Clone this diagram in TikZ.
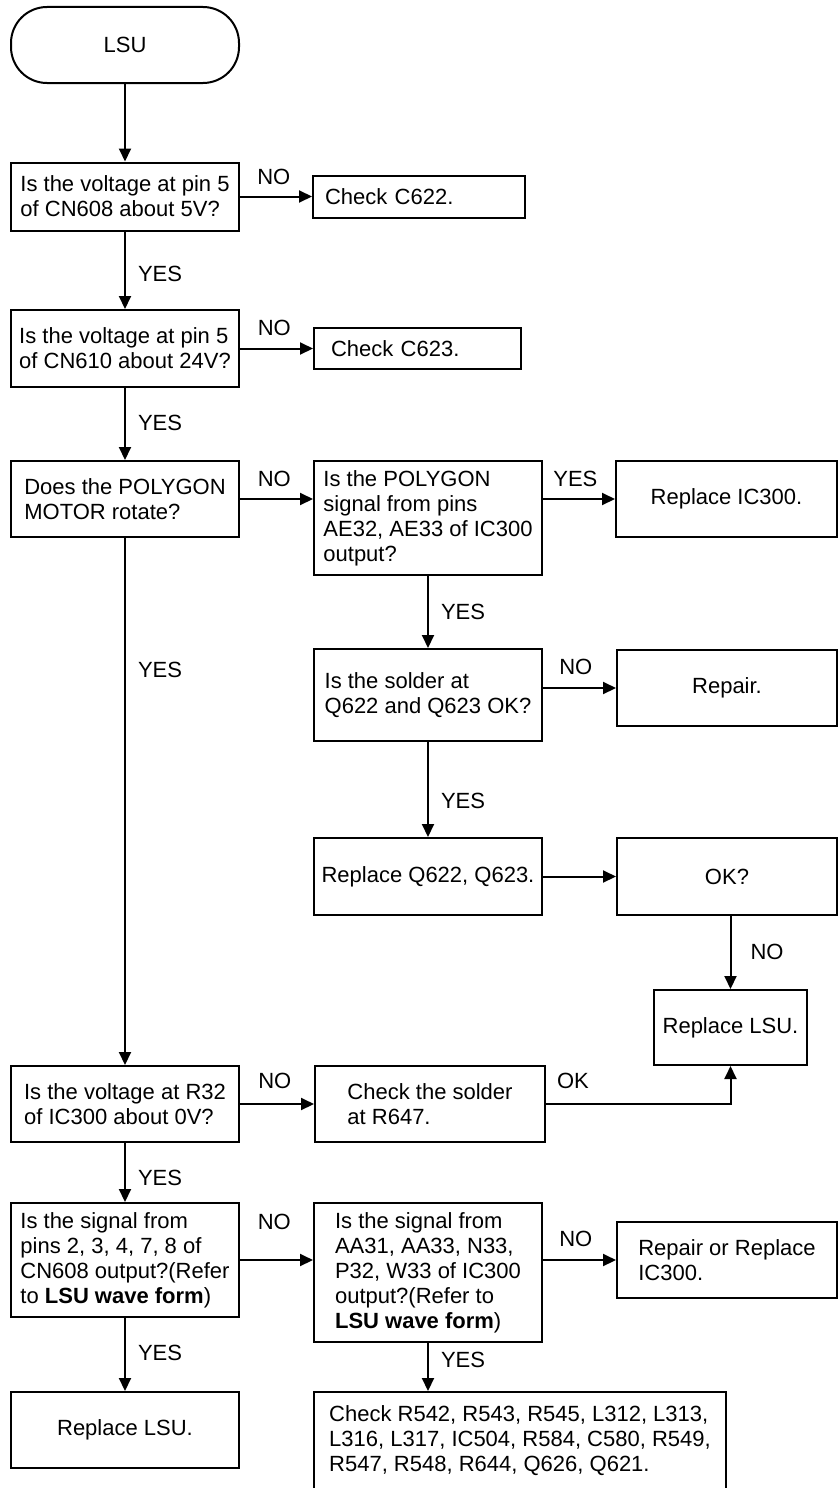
\documentclass[tikz,border=0pt]{standalone}
\usepackage{fontspec}
\setmainfont{Liberation Sans}
\usetikzlibrary{arrows.meta, positioning}

\begin{document}
\begin{tikzpicture}[x=1pt, y=-1pt, line width=2pt,
    every node/.style={font=\fontsize{22}{25}\selectfont},
    box/.style 2 args={draw, rectangle, inner sep=0pt, align=left, minimum width=#1, minimum height=#2},
    term/.style={draw, rectangle, rounded corners=36pt, minimum width=228pt, minimum height=76pt},
    flow/.style={-{Triangle[length=13pt, width=12pt]}},
    lbl/.style={inner sep=0pt}]
        \useasboundingbox (0,0) rectangle (838,1488);

        % Start
        \node[term] (lsu) at (125,45) {LSU};

        % Supply voltages
        \node[box={228pt}{68pt}] (q5v) at (125,196.5) {Is the voltage at pin 5\\of CN608 about 5V?};
        \node[box={212pt}{42pt}, inner xsep=12pt, text width=188pt] (c622) at (419,196.5) {Check C622.};
        \node[box={228pt}{77pt}] (q24v) at (125,348.5) {Is the voltage at pin 5\\of CN610 about 24V?};
        \node[box={207pt}{41pt}, inner xsep=17pt, text width=173pt] (c623) at (417.5,348.5) {Check C623.};

        % Polygon motor
        \node[box={228pt}{76pt}] (polygon) at (125,499) {Does the POLYGON\\MOTOR rotate?};
        \node[box={228pt}{114pt}] (polysig) at (428,518) {Is the POLYGON\\signal from pins\\AE32, AE33 of IC300\\output?};
        \node[box={221pt}{76pt}] (ic300) at (726.5,499) {Replace IC300.};
        \node[box={228pt}{92pt}] (solder) at (428,695) {Is the solder at\\Q622 and Q623 OK?};
        \node[box={220pt}{76pt}] (repair) at (727,688) {Repair.};
        \node[box={228pt}{77pt}] (q622) at (428,876.5) {Replace Q622, Q623.};
        \node[box={220pt}{77pt}] (ok) at (727,876.5) {OK?};
        \node[box={153pt}{75pt}] (lsu2) at (730.5,1027.5) {Replace LSU.};

        % R32 check
        \node[box={228pt}{76pt}] (r32) at (125,1104) {Is the voltage at R32\\of IC300 about 0V?};
        \node[box={230pt}{76pt}] (r647) at (430,1104) {Check the solder\\at R647.};

        % Signals
        \node[box={228pt}{114pt}] (pins) at (125,1260) {Is the signal from\\pins 2, 3, 4, 7, 8 of\\CN608 output?(Refer\\to \textbf{LSU wave form})};
        \node[box={228pt}{139pt}] (aa31) at (428,1272.5) {Is the signal from\\AA31, AA33, N33,\\P32, W33 of IC300\\output?(Refer to\\\textbf{LSU wave form})};
        \node[box={220pt}{76pt}] (ic300b) at (727,1260) {Repair or Replace\\IC300.};
        \node[box={228pt}{76pt}] (lsu3) at (125,1430) {Replace LSU.};
        \node[box={412pt}{98pt}] (parts) at (520,1441) {Check R542, R543, R545, L312, L313,\\L316, L317, IC504, R584, C580, R549,\\R547, R548, R644, Q626, Q621.};

        % Connectors
        \draw[flow] (lsu) -- (q5v);
        \draw[flow] (q5v) -- node[lbl, above=11pt, pos=0.47] {NO} (c622);
        \draw[flow] (q5v) -- node[lbl, right=12pt, pos=0.55] {YES} (q24v);
        \draw[flow] (q24v) -- node[lbl, above=12pt, pos=0.47] {NO} (c623);
        \draw[flow] (q24v) -- node[lbl, right=12pt, pos=0.49] {YES} (polygon);
        \draw[flow] (polygon.east) -- node[lbl, above=11pt, pos=0.47] {NO} (polygon.east -| polysig.west);
        \draw[flow] (polysig.east |- ic300.west) -- node[lbl, above=11pt, pos=0.45] {YES} (ic300.west);
        \draw[flow] (polysig) -- node[lbl, right=12pt, pos=0.5] {YES} (solder);
        \draw[flow] (solder.east |- repair.west) -- node[lbl, above=12pt, pos=0.45] {NO} (repair.west);
        \draw[flow] (solder) -- node[lbl, right=12pt, pos=0.62] {YES} (q622);
        \draw[flow] (q622) -- (ok);
        \draw[flow] (ok.south -| lsu2.north) -- node[lbl, right=19pt, pos=0.49] {NO} (lsu2.north);
        \draw[flow] (polygon) -- node[lbl, right=12pt, pos=0.25] {YES} (r32);
        \draw[flow] (r32) -- node[lbl, above=14pt, pos=0.47] {NO} (r647);
        \draw[flow] (r647) -| node[lbl, above=14pt, pos=0.073] {OK} (lsu2);
        \draw[flow] (r32) -- node[lbl, right=12pt, pos=0.59] {YES} (pins);
        \draw[flow] (pins.east) -- node[lbl, above=29pt, pos=0.47] {NO} (pins.east -| aa31.west);
        \draw[flow] (aa31.east |- ic300b.west) -- node[lbl, above=12pt, pos=0.45] {NO} (ic300b.west);
        \draw[flow] (pins) -- node[lbl, right=12pt, pos=0.48] {YES} (lsu3);
        \draw[flow] (aa31) -- node[lbl, right=12pt, pos=0.36] {YES} (aa31.south |- parts.north);

    \end{tikzpicture}
\end{document}
